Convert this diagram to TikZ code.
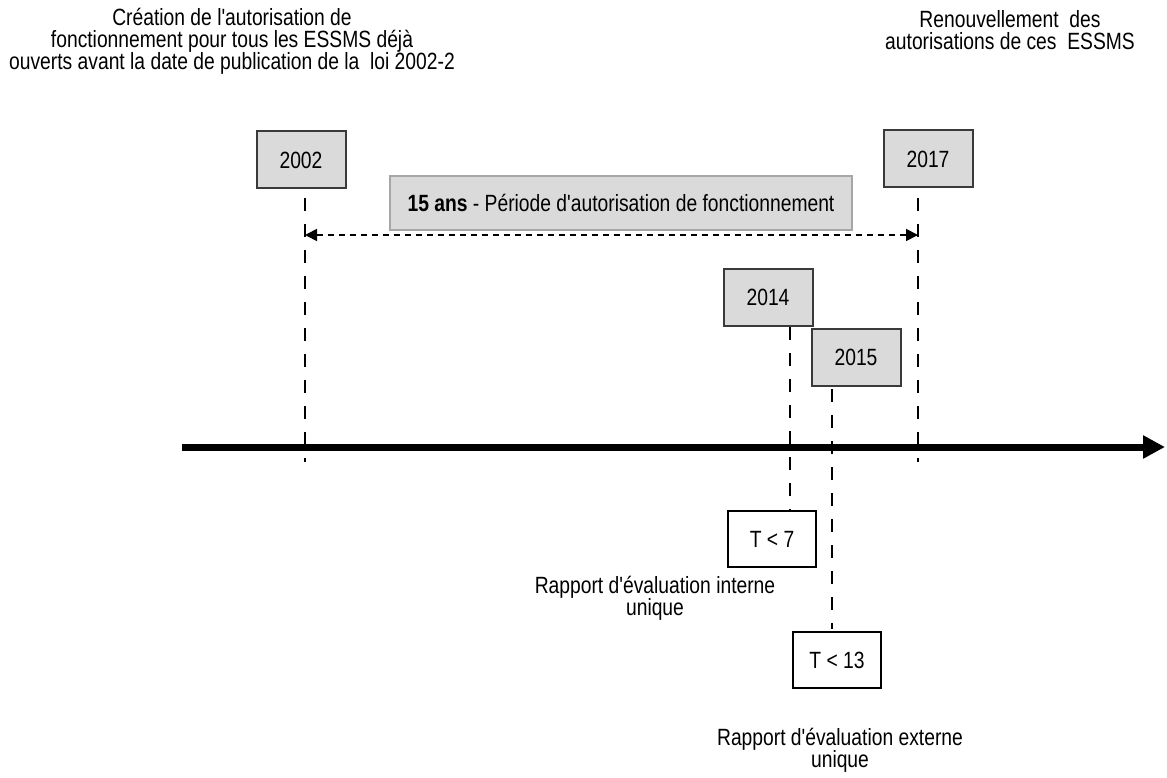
\documentclass[tikz,border=0pt]{standalone}
\usepackage{fontspec}
\setmainfont{Liberation Sans}[FakeStretch=0.82,Ligatures=TeXOff]
\usetikzlibrary{arrows.meta}
\definecolor{boxgray}{HTML}{DADADA}
\definecolor{edgegray}{HTML}{3A3A3A}
\begin{document}
\begin{tikzpicture}[x=1pt,y=-1pt,
  txt/.style={font=\fontsize{23.5}{22}\selectfont},
  year/.style={txt,draw=edgegray,line width=2pt,fill=boxgray,minimum width=89pt,minimum height=57pt,inner sep=0pt},
  period/.style={txt,draw=black!35,line width=1.2pt,fill=boxgray,minimum width=462pt,minimum height=54pt,inner sep=0pt},
  limit/.style={txt,draw=black,line width=1.6pt,fill=white,minimum width=88pt,minimum height=56pt,inner sep=0pt},
  caption/.style={txt,align=center,inner sep=0pt},
  guide/.style={line width=2.6pt,dash pattern=on 13pt off 13pt},
  span/.style={line width=1.8pt,dash pattern=on 6pt off 5pt,{Triangle[length=12pt,width=12pt]}-{Triangle[length=12pt,width=12pt]}},
  axis/.style={line width=7pt,-{Triangle[length=22pt,width=22pt]}}]
\useasboundingbox (0,0) rectangle (1167,778);

% captions above the timeline
\node[caption] (top1) at (232,41) {Création de l'autorisation de\\fonctionnement pour tous les ESSMS déjà\\ouverts avant la date de publication de la\ \ loi 2002-2};
\node[caption] (top2) at (1010,30) {Renouvellement\ \ des\\autorisations de ces\ \ ESSMS};

% year boxes
\node[year] (y2002) at (301,160) {2002};
\node[year] (y2017) at (928,159) {2017};
\node[year] (y2014) at (768,297) {2014};
\node[year] (y2015) at (856,357) {2015};

% authorisation period
\node[period] (per) at (621,203) {\textbf{15 ans} - Période d'autorisation de fonctionnement};

% evaluation deadlines
\node[limit] (t7) at (772,539) {T < 7};
\node[limit] (t13) at (837,660) {T < 13};
\node[caption] (int) at (655,598) {Rapport d'évaluation interne\\unique};
\node[caption] (ext) at (840,750) {Rapport d'évaluation externe\\unique};

% guide line end points
\coordinate (g02a) at (305,198);
\coordinate (g02b) at (305,462);
\coordinate (g17a) at (918,198);
\coordinate (g17b) at (918,462);
\coordinate (g14a) at (790,327);
\coordinate (g14b) at (790,511);
\coordinate (g15a) at (832,389);
\coordinate (g15b) at (832,629);
\coordinate (spanL) at (305,235);
\coordinate (spanR) at (918,235);
\coordinate (axL) at (182,447);
\coordinate (axR) at (1165,447);

% dashed guides
\draw[guide] (g02a) -- (g02b);
\draw[guide] (g17a) -- (g17b);
\draw[guide] (g14a) -- (g14b);
\draw[guide] (g15a) -- (g15b);

% span of the authorisation period
\draw[span] (spanL) -- (spanR);

% time axis
\draw[axis] (axL) -- (axR);
\end{tikzpicture}
\end{document}
